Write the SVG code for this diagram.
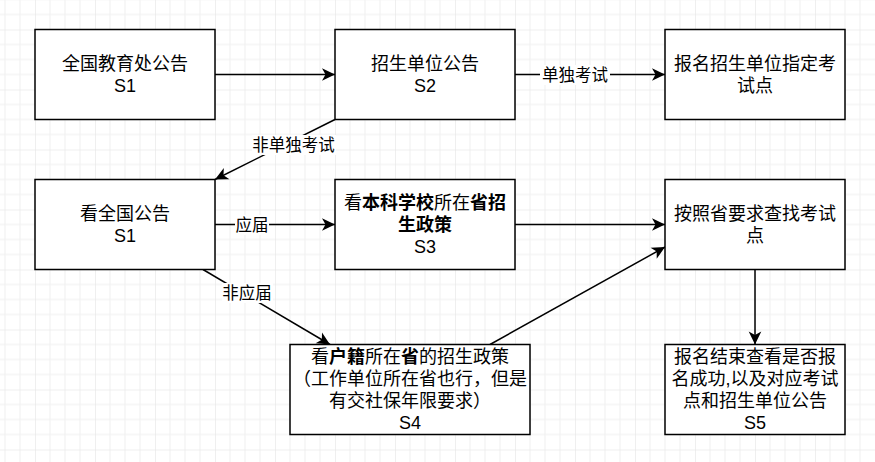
<svg xmlns="http://www.w3.org/2000/svg" width="875" height="462" viewBox="0 0 875 462">
<style>
.box{fill:#ffffff;stroke:#000000;stroke-width:1.5}
.t{font-family:"Liberation Sans","Noto Sans CJK SC",sans-serif;font-size:18px;fill:#000;text-anchor:middle;dominant-baseline:central}
.lbl{font-family:"Liberation Sans","Noto Sans CJK SC",sans-serif;font-size:16.5px;fill:#000;text-anchor:middle;dominant-baseline:central}
.b{font-weight:bold}
.edge{fill:none;stroke:#000;stroke-width:1.5}
.lb{fill:#fff}
</style>
<defs>
<pattern id="grid" patternUnits="userSpaceOnUse" x="35" y="29.5" width="60" height="60">
<path d="M15,0V60M30,0V60M45,0V60M0,15H60M0,30H60M0,45H60" stroke="#efefef" stroke-width="1" fill="none"/>
<path d="M0,0V60M0,0H60" stroke="#e0e0e0" stroke-width="1" fill="none"/>
</pattern>
<marker id="arr" markerUnits="userSpaceOnUse" markerWidth="16" markerHeight="16" viewBox="-14 -8 16 16" refX="0" refY="0" orient="auto">
<path d="M0,0L-13,-6.3L-9.5,0L-13,6.3Z" fill="#000"/>
</marker>
</defs>
<rect x="0" y="0" width="875" height="462" fill="#ffffff"/>
<rect x="0" y="0" width="875" height="462" fill="url(#grid)"/>

<g id="connectors">
<path class="edge" d="M215,74.5H335" marker-end="url(#arr)"/>
<path class="edge" d="M515,74.5H665" marker-end="url(#arr)"/>
<rect class="lb" x="540" y="65" width="70" height="20"/>
<text class="lbl" x="575" y="75">单独考试</text>
<path class="edge" d="M335,119.5L215,179.5" marker-end="url(#arr)"/>
<rect class="lb" x="252" y="135" width="84" height="20"/>
<text class="lbl" x="293.5" y="145">非单独考试</text>
<path class="edge" d="M215,224.5H335" marker-end="url(#arr)"/>
<rect class="lb" x="235" y="215" width="34" height="20"/>
<text class="lbl" x="252" y="225">应届</text>
<path class="edge" d="M203,269.5L330,344.5" marker-end="url(#arr)"/>
<rect class="lb" x="222" y="283" width="51" height="20"/>
<text class="lbl" x="247" y="293">非应届</text>
<path class="edge" d="M515,224.5H665" marker-end="url(#arr)"/>
<path class="edge" d="M490,344.5L665,247" marker-end="url(#arr)"/>
<path class="edge" d="M755,269.5V344.5" marker-end="url(#arr)"/>
</g>

<g id="node-s1">
<rect class="box" x="35" y="29.5" width="180" height="90"/>
<text class="t" x="125" y="64">全国教育处公告</text>
<text class="t" x="125" y="86">S1</text>
</g>
<g id="node-s2">
<rect class="box" x="335" y="29.5" width="180" height="90"/>
<text class="t" x="425" y="64">招生单位公告</text>
<text class="t" x="425" y="86">S2</text>
</g>
<g id="node-exam-site">
<rect class="box" x="665" y="29.5" width="180" height="90"/>
<text class="t" x="755" y="64">报名招生单位指定考</text>
<text class="t" x="755" y="86">试点</text>
</g>
<g id="node-s1b">
<rect class="box" x="35" y="179.5" width="180" height="90"/>
<text class="t" x="125" y="214">看全国公告</text>
<text class="t" x="125" y="236">S1</text>
</g>
<g id="node-s3">
<rect class="box" x="335" y="179.5" width="180" height="90"/>
<text class="t" x="425" y="203">看<tspan class="b">本科学校</tspan>所在<tspan class="b">省招</tspan></text>
<text class="t b" x="425" y="225">生政策</text>
<text class="t" x="425" y="247">S3</text>
</g>
<g id="node-find">
<rect class="box" x="665" y="179.5" width="180" height="90"/>
<text class="t" x="755" y="214">按照省要求查找考试</text>
<text class="t" x="755" y="236">点</text>
</g>
<g id="node-s4">
<rect class="box" x="290" y="344.5" width="240" height="90"/>
<text class="t" x="410" y="357">看<tspan class="b">户籍</tspan>所在<tspan class="b">省</tspan>的招生政策</text>
<text class="t" x="410" y="379">（工作单位所在省也行，但是</text>
<text class="t" x="410" y="401">有交社保年限要求）</text>
<text class="t" x="410" y="423">S4</text>
</g>
<g id="node-s5">
<rect class="box" x="665" y="344.5" width="180" height="90"/>
<text class="t" x="755" y="357">报名结束查看是否报</text>
<text class="t" x="755" y="379">名成功,以及对应考试</text>
<text class="t" x="755" y="401">点和招生单位公告</text>
<text class="t" x="755" y="423">S5</text>
</g>
</svg>
